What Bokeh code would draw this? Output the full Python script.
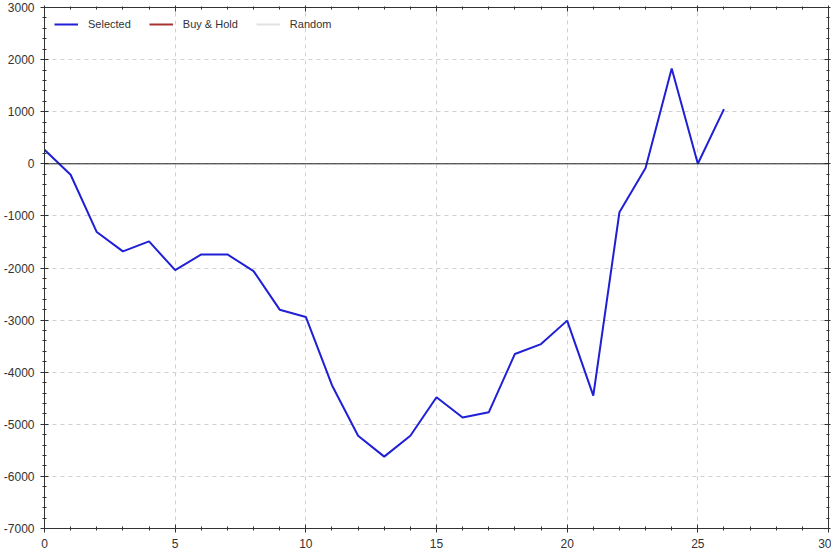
from bokeh.plotting import figure
from bokeh.models import (SingleIntervalTicker, LinearAxis, Span, Legend, LegendItem,
                          NumeralTickFormatter, CustomJSTickFormatter, Range1d, ColumnDataSource)
from bokeh.embed import file_html
from bokeh.resources import INLINE

# ---- data ----
steps = list(range(27))
selected = [270, -210, -1310, -1680, -1490, -2040, -1740, -1740, -2060, -2800, -2940,
            -4250, -5220, -5620, -5220, -4480, -4870, -4770, -3650, -3460, -3010,
            -4450, -930, -80, 1830, 0, 1050]
# the other two series show no visible data in the chart
buy_hold_x = [float("nan")]
buy_hold = [float("nan")]
random_x = [float("nan")]
random_vals = [float("nan")]
series_names = ["Selected", "Buy & Hold", "Random"]
series_colors = ["#1f1fd6", "#a83232", "#e2e2e2"]

x_min, x_max = 0, 30
y_min, y_max = -7000, 3000

p = figure(width=831, height=550, output_backend="svg", toolbar_location=None,
           x_range=Range1d(x_min, x_max), y_range=Range1d(y_min, y_max),
           x_axis_location=None, y_axis_location=None,
           min_border_left=5, min_border_right=3, min_border_top=7, min_border_bottom=5)
p.outline_line_color = None
p.background_fill_color = "white"

def mk_axis(interval, show_labels):
    ax = LinearAxis(ticker=SingleIntervalTicker(interval=interval, num_minor_ticks=5))
    ax.axis_line_color = "#333333"
    ax.major_tick_line_color = "#333333"
    ax.minor_tick_line_color = "#333333"
    ax.major_tick_in = 4
    ax.major_tick_out = 4
    ax.minor_tick_in = 2
    ax.minor_tick_out = 2
    if show_labels:
        ax.formatter = NumeralTickFormatter(format="0")
        ax.major_label_text_font = "Liberation Sans"
        ax.major_label_text_font_size = "12px"
        ax.major_label_text_color = "#333333"
        ax.major_label_standoff = 6
    else:
        ax.formatter = CustomJSTickFormatter(code="return '';")
        ax.major_label_standoff = 0
        ax.major_tick_out = 2
        ax.minor_tick_out = 1
    return ax

xb = mk_axis(5, True)
yl = mk_axis(1000, True)
xt = mk_axis(5, False)
yr = mk_axis(1000, False)
p.add_layout(xb, "below")
p.add_layout(yl, "left")
p.add_layout(xt, "above")
p.add_layout(yr, "right")

p.xgrid.ticker = SingleIntervalTicker(interval=5)
p.ygrid.ticker = SingleIntervalTicker(interval=1000)
for g in (p.xgrid, p.ygrid):
    g.grid_line_color = "#cfcfcf"
    g.grid_line_dash = "4 4"
    g.grid_line_width = 1

p.add_layout(Span(location=0, dimension="width", line_color="#222222", line_width=1))

src_sel = ColumnDataSource(dict(x=steps, y=selected))
src_bh = ColumnDataSource(dict(x=buy_hold_x, y=buy_hold))
src_rnd = ColumnDataSource(dict(x=random_x, y=random_vals))
r_rnd = p.line("x", "y", source=src_rnd, line_color=series_colors[2], line_width=2)
r_bh = p.line("x", "y", source=src_bh, line_color=series_colors[1], line_width=2)
r_sel = p.line("x", "y", source=src_sel, line_color=series_colors[0], line_width=2)

legend = Legend(items=[LegendItem(label=series_names[0], renderers=[r_sel]),
                       LegendItem(label=series_names[1], renderers=[r_bh]),
                       LegendItem(label=series_names[2], renderers=[r_rnd])],
                location="top_left", orientation="horizontal")
legend.background_fill_alpha = 0
legend.border_line_alpha = 0
legend.label_text_font = "Liberation Sans"
legend.label_text_font_size = "11px"
legend.label_text_color = "#333333"
legend.glyph_width = 24
legend.glyph_height = 14
legend.label_height = 14
legend.label_standoff = 10
legend.spacing = 18
legend.margin = 4
legend.padding = 6
p.add_layout(legend, "center")

open("out.html", "w").write(file_html(p, INLINE))
